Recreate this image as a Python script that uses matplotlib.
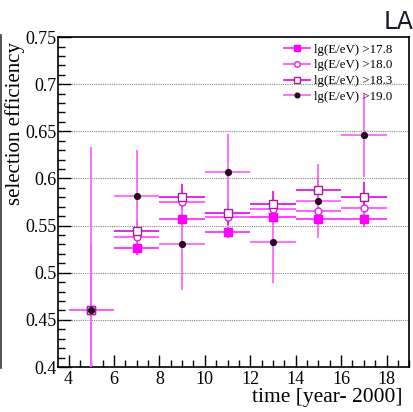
import matplotlib.pyplot as plt
import numpy as np
from matplotlib.lines import Line2D
from matplotlib.ticker import MultipleLocator

plt.rcParams['font.family'] = ['Liberation Serif', 'DejaVu Serif']

# data
years = np.array([5, 7, 9, 11, 13, 15, 17])
half_bin = 1.0

eff_178 = [0.461, 0.526, 0.557, 0.543, 0.559, 0.557, 0.557]
err_178 = [0.030, 0.007, 0.007, 0.006, 0.007, 0.007, 0.008]

eff_180 = [0.460, 0.538, 0.575, 0.559, 0.568, 0.566, 0.569]
err_180 = [0.045, 0.009, 0.010, 0.009, 0.010, 0.011, 0.012]

eff_183 = [0.461, 0.544, 0.580, 0.563, 0.573, 0.588, 0.580]
err_183 = [0.070, 0.012, 0.014, 0.012, 0.014, 0.015, 0.016]

eff_190 = [0.461, 0.581, 0.530, 0.607, 0.533, 0.576, 0.646]
err_190 = [0.172, 0.049, 0.048, 0.040, 0.044, 0.039, 0.044]

labels = ['lg(E/eV) >17.8', 'lg(E/eV) >18.0', 'lg(E/eV) >18.3', 'lg(E/eV) >19.0']

fig = plt.figure(figsize=(4.13, 4.12), dpi=100)
ax = fig.add_axes([0.1412, 0.1092, 0.8498, 0.8008])

styles = [
    # marker, face, edge, errcolor, size
    ('s', '#ff00ff', '#ff00ff', '#ff33ff', 5.5),
    ('o', 'white', '#e020e0', '#ff55ff', 5.0),
    ('s', 'white', '#a0209a', '#ee11ee', 6.0),
    ('o', '#2a0a22', '#2a0a22', '#ff66ff', 4.2),
]
series = [(eff_178, err_178), (eff_180, err_180), (eff_183, err_183), (eff_190, err_190)]

handles = []
for (eff, err), (mk, fc, ec, erc, ms), lab in zip(series, styles, labels):
    ax.errorbar(years, eff, xerr=half_bin, yerr=err, fmt=mk, mfc=fc, mec=ec,
                ms=ms, mew=1.0, ecolor=erc, elinewidth=1.3, capsize=0, zorder=3)
    handles.append(Line2D([], [], color=erc, lw=1.3, marker=mk, mfc=fc, mec=ec,
                          ms=ms * 0.8, mew=1.0, label=lab))

ax.set_xlim(3.55, 19.0)
ax.set_ylim(0.4, 0.75)
ax.xaxis.set_major_locator(MultipleLocator(2))
ax.xaxis.set_minor_locator(MultipleLocator(0.5))
ax.yaxis.set_minor_locator(MultipleLocator(0.01))
ax.set_yticks([0.4, 0.45, 0.5, 0.55, 0.6, 0.65, 0.7, 0.75])
ax.set_yticklabels(['0.4', '0.45', '0.5', '0.55', '0.6', '0.65', '0.7', '0.75'])
ax.tick_params(which='both', direction='in', top=False, right=False, labelsize=13)
ax.tick_params(which='major', length=9, width=1)
ax.tick_params(which='minor', length=5, width=1)
ax.tick_params(axis='y', pad=1)
ax.tick_params(axis='x', pad=3)

for yv in [0.45, 0.5, 0.55, 0.6, 0.65, 0.7]:
    ax.axhline(yv, color='#888888', lw=0.8, ls=(0, (1, 1)), zorder=1)

for s in ax.spines.values():
    s.set_linewidth(1.2)

ax.set_xlabel('time [year- 2000]', fontsize=15.5, labelpad=1)
ax.xaxis.set_label_coords(0.98, -0.065, transform=ax.transAxes)
ax.xaxis.label.set_ha('right')
ax.xaxis.label.set_va('top')
ax.set_ylabel('selection efficiency', fontsize=15)
ax.yaxis.set_label_coords(-0.122, 0.985, transform=ax.transAxes)
ax.yaxis.label.set_ha('right')
ax.yaxis.label.set_va('center')

ax.legend(handles=handles, loc='upper right', frameon=False, fontsize=9.3,
          handlelength=2.0, handletextpad=0.3, labelspacing=0.28,
          bbox_to_anchor=(0.985, 1.015))

fig.text(1.0, 0.975, 'LA', ha='right', va='top', fontsize=17,
         family='DejaVu Sans', color='#1a1a2e')
fig.add_artist(Line2D([0.002, 0.002], [0.108, 0.915], color='#333333', lw=1.2,
                      transform=fig.transFigure))

fig.savefig('out.png', dpi=100)
